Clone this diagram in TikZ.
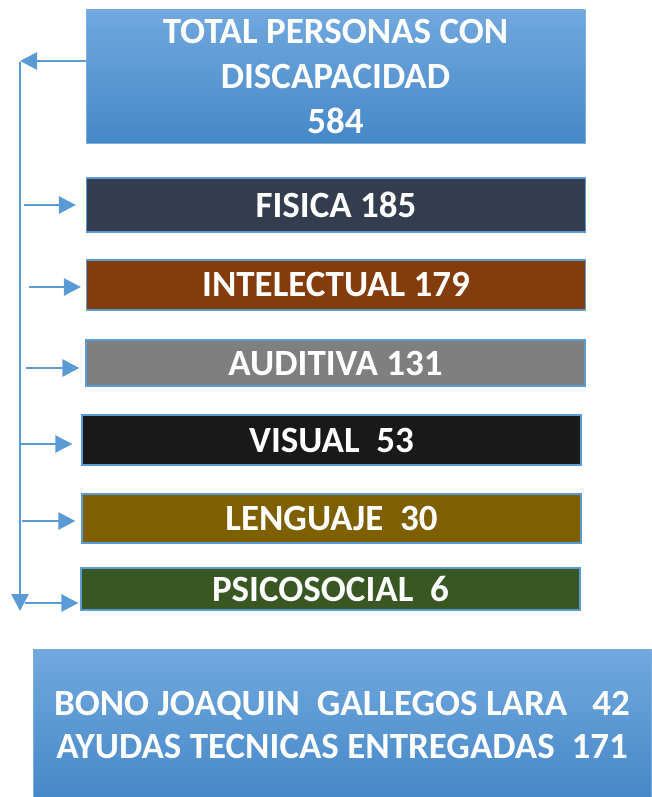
\documentclass[tikz,border=0pt]{standalone}
\usepackage{fontspec}
\setmainfont{Carlito}
\usetikzlibrary{arrows.meta}
\definecolor{lnk}{HTML}{5B9BD5}
\definecolor{gtop}{HTML}{71A8DE}
\definecolor{gbot}{HTML}{4588C8}
\definecolor{cfis}{HTML}{333D4F}
\definecolor{cint}{HTML}{843C0C}
\definecolor{caud}{HTML}{7F7F7F}
\definecolor{cvis}{HTML}{191919}
\definecolor{clen}{HTML}{7F6000}
\definecolor{cpsi}{HTML}{385723}
\tikzset{
  px/.style={x=1pt,y=-1pt},
  catbox/.style={draw=lnk, line width=1.2pt, minimum width=499pt, inner sep=0pt, text=white,
     font=\fontsize{37}{44}\selectfont\bfseries},
  bluebox/.style={draw=lnk!80, line width=0.8pt, top color=gtop, bottom color=gbot, inner sep=0pt,
     text=white, align=center},
  conn/.style={draw=lnk, line width=2.6pt, -{Triangle[length=17pt,width=17pt]}},
}
\begin{document}
\begin{tikzpicture}[px]
\useasboundingbox (0,0) rectangle (651,797);
\node[bluebox, minimum width=499pt, minimum height=133pt, font=\fontsize{37}{45}\selectfont\bfseries] (tot) at (335.5,76.5)
  {TOTAL PERSONAS CON\\DISCAPACIDAD\\584};
\node[catbox, fill=cfis, minimum height=54pt] (fis) at (336,205) {FISICA 185};
\node[catbox, fill=cint, minimum height=50pt] (int) at (336,285) {INTELECTUAL 179};
\node[catbox, fill=caud, minimum height=46pt] (aud) at (335.5,363) {AUDITIVA 131};
\node[catbox, fill=cvis, minimum height=50pt] (vis) at (331.5,440) {VISUAL~ 53};
\node[catbox, fill=clen, minimum height=49pt] (len) at (331.5,518.5) {LENGUAJE~ 30};
\node[catbox, fill=cpsi, minimum height=42pt] (psi) at (330.5,589) {PSICOSOCIAL~ 6};
\node[bluebox, minimum width=618pt, minimum height=152pt, font=\fontsize{37}{43}\selectfont\bfseries] (bono) at (342,725)
  {BONO JOAQUIN~ GALLEGOS LARA~~ 42\\AYUDAS TECNICAS ENTREGADAS~ 171};

\coordinate (top) at (20,61);
\coordinate (bot) at (20,611);
\coordinate (a1) at (24,205);
\coordinate (a2) at (29,287);
\coordinate (a3) at (26,368);
\coordinate (a4) at (20,444);
\coordinate (a5) at (22,521);
\coordinate (a6) at (25,603);

\draw[conn] (tot.west |- top) -- (top);
\draw[conn] ([yshift=-1.3pt]top) -- (bot);
\draw[conn] (a1) -- ([xshift=-10pt]fis.west |- a1);
\draw[conn] (a2) -- ([xshift=-5pt]int.west |- a2);
\draw[conn] (a3) -- ([xshift=-6pt]aud.west |- a3);
\draw[conn] (a4) -- ([xshift=-9pt]vis.west |- a4);
\draw[conn] (a5) -- ([xshift=-6pt]len.west |- a5);
\draw[conn] (a6) -- ([xshift=-2pt]psi.west |- a6);
\end{tikzpicture}
\end{document}
